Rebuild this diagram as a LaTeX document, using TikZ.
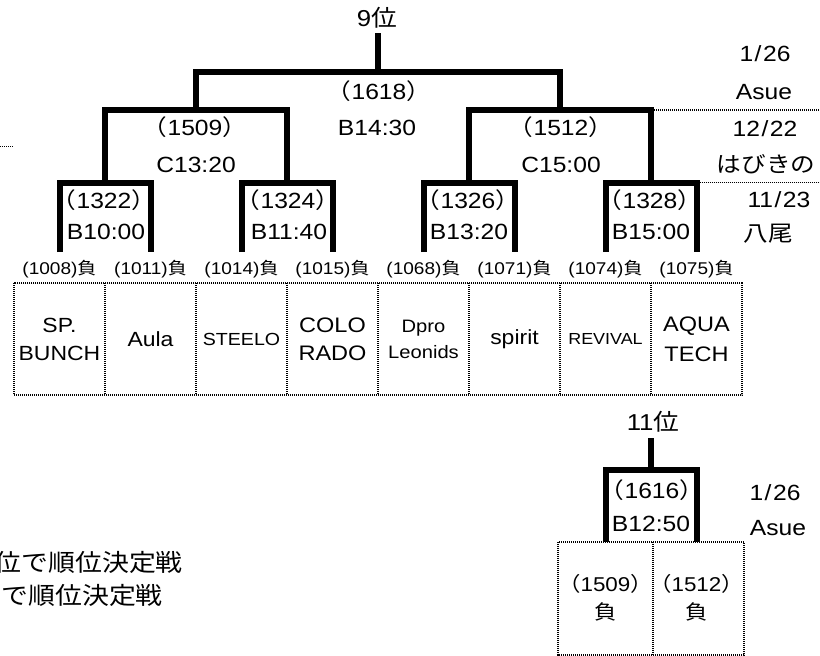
\documentclass[tikz,border=0pt]{standalone}
\usepackage{fontspec}
\setmainfont{Liberation Sans}[FakeStretch=1.12]
\newfontfamily\jp{Noto Sans CJK JP}[FakeStretch=1.12]
\newcommand{\fwp}[1]{{\jp （}#1{\jp ）}}
\newcommand{\lose}{{\jp 負}}
\newcommand{\fsl}{\kern1.5pt/\kern1.5pt}
\begin{document}
\begin{tikzpicture}[x=1pt,y=-1pt,
  tree/.style={line width=6pt, line join=miter},
  dotline/.style={line width=1.8pt, dash pattern=on 1pt off 1pt},
  lbl/.style={inner sep=0pt, anchor=base, font=\fontsize{22}{26}\selectfont},
  rank/.style={inner sep=0pt, anchor=base, font=\fontsize{23}{27}\selectfont},
  small/.style={inner sep=0pt, anchor=base, font=\fontsize{17}{20}\selectfont},
  big/.style={inner sep=0pt, anchor=base east, font=\fontsize{24}{28}\selectfont},
  team/.style={inner sep=0pt, minimum width=91pt, minimum height=111.5pt, align=center, font=\fontsize{20.5}{28}\selectfont},
  lbox/.style={inner sep=0pt, minimum width=91pt, minimum height=112.5pt, align=center, font=\fontsize{20}{28}\selectfont},
]
\useasboundingbox (0,0) rectangle (820,656);
\clip (0,0) rectangle (820,656);

% ---------- main bracket ----------
\coordinate (r0) at (378,33);
\coordinate (r1) at (378,71.5);
\coordinate (a) at (196,110);
\coordinate (b) at (560,110);
\coordinate (a1) at (105,182.5);
\coordinate (a2) at (287,182.5);
\coordinate (b1) at (469,182.5);
\coordinate (b2) at (651,182.5);
\coordinate (e1) at (59.5,252);
\coordinate (e2) at (150.5,252);
\coordinate (e3) at (241.5,252);
\coordinate (e4) at (332.5,252);
\coordinate (e5) at (423.5,252);
\coordinate (e6) at (514.5,252);
\coordinate (e7) at (605.5,252);
\coordinate (e8) at (696.5,252);

\draw[tree] (r0) -- (r1);
\draw[tree] (a) |- (r1) -| (b);
\draw[tree] (a1) |- (a) -| (a2);
\draw[tree] (b1) |- (b) -| (b2);
\draw[tree] (e1) |- (a1) -| (e2);
\draw[tree] (e3) |- (a2) -| (e4);
\draw[tree] (e5) |- (b1) -| (e6);
\draw[tree] (e7) |- (b2) -| (e8);

\node[rank] (rk9) at (377,26.5) {9{\jp 位}};
\node[lbl] (m1618) at (379,99) {\fwp{1618}};
\node[lbl] (t1618) at (377,135) {B14:30};
\node[lbl] (m1509) at (195,135) {\fwp{1509}};
\node[lbl] (t1509) at (196,172) {C13:20};
\node[lbl] (m1512) at (561,135) {\fwp{1512}};
\node[lbl] (t1512) at (561,172) {C15:00};
\node[lbl] (m1322) at (104,208) {\fwp{1322}};
\node[lbl] (t1322) at (106,239) {B10:00};
\node[lbl] (m1324) at (288,208) {\fwp{1324}};
\node[lbl] (t1324) at (289,239) {B11:40};
\node[lbl] (m1326) at (468,208) {\fwp{1326}};
\node[lbl] (t1326) at (469,239) {B13:20};
\node[lbl] (m1328) at (650,208) {\fwp{1328}};
\node[lbl] (t1328) at (651,239) {B15:00};

% ---------- leaf labels ----------
\node[small] (l1) at (59.5,274) {(1008)\lose};
\node[small] (l2) at (150.5,274) {(1011)\lose};
\node[small] (l3) at (241.5,274) {(1014)\lose};
\node[small] (l4) at (332.5,274) {(1015)\lose};
\node[small] (l5) at (423.5,274) {(1068)\lose};
\node[small] (l6) at (514.5,274) {(1071)\lose};
\node[small] (l7) at (605.5,274) {(1074)\lose};
\node[small] (l8) at (696.5,274) {(1075)\lose};

% ---------- team boxes ----------
\node[team] (t1) at (59.5,339.25) {SP.\\BUNCH};
\node[team] (t2) at (150.5,339.25) {Aula};
\node[team, font=\fontsize{17.5}{24}\selectfont] (t3) at (241.5,339.25) {STEELO};
\node[team, font=\fontsize{21}{28}\selectfont] (t4) at (332.5,339.25) {COLO\\RADO};
\node[team, font=\fontsize{18}{26}\selectfont] (t5) at (423.5,339.25) {Dpro\\Leonids};
\node[team] (t6) at (514.5,339.25) {spirit};
\node[team, font=\fontsize{16}{22}\selectfont] (t7) at (605.5,339.25) {REVIVAL};
\node[team, font=\fontsize{21}{30}\selectfont] (t8) at (696.5,339.25) {AQUA\\TECH};

\draw[dotline] (t1.north west) rectangle (t8.south east);
\foreach \i in {1,...,7} {\draw[dotline] (t\i.north east) -- (t\i.south east);}

% ---------- right column ----------
\node[lbl] (d1) at (765,61) {1\fsl 26};
\node[lbl] (v1) at (764,99) {Asue};
\node[lbl] (d2) at (765,136) {12\fsl 22};
\node[lbl] (v2) at (766,172) {\jp はびきの};
\node[lbl] (d3) at (779,207) {11\fsl 23};
\node[lbl] (v3) at (768,241) {\jp 八尾};
\coordinate (g1) at (654,110);
\coordinate (g1e) at (820,110);
\coordinate (g2) at (699.5,182.5);
\coordinate (g2e) at (820,182.5);
\draw[dotline] (g1) -- (g1e);
\draw[dotline] (g2) -- (g2e);

% left fragment
\coordinate (h0) at (0,146.5);
\coordinate (h1) at (13,146.5);
\draw[dotline] (h0) -- (h1);

% ---------- 11th place ----------
\coordinate (s0) at (651,438);
\coordinate (s1) at (651,470);
\coordinate (f1) at (605.5,542);
\coordinate (f2) at (696.5,542);
\draw[tree] (s0) -- (s1);
\draw[tree] (f1) |- (s1) -| (f2);
\node[rank] (rk11) at (653,430.5) {11{\jp 位}};
\node[lbl] (m1616) at (652,498) {\fwp{1616}};
\node[lbl] (t1616) at (651,531) {B12:50};
\node[lbl] (d4) at (775,500) {1\fsl 26};
\node[lbl] (v4) at (778,535) {Asue};

\node[lbox] (u1) at (605.5,598.25) {\fwp{1509}\\\lose};
\node[lbox] (u2) at (696.5,598.25) {\fwp{1512}\\\lose};
\draw[dotline] (u1.north west) rectangle (u2.south east);
\draw[dotline] (u1.north east) -- (u1.south east);

% ---------- notes ----------
\node[big] (n1) at (183,571) {\jp 位で順位決定戦};
\node[big] (n2) at (163,604) {\jp で順位決定戦};
\end{tikzpicture}
\end{document}
